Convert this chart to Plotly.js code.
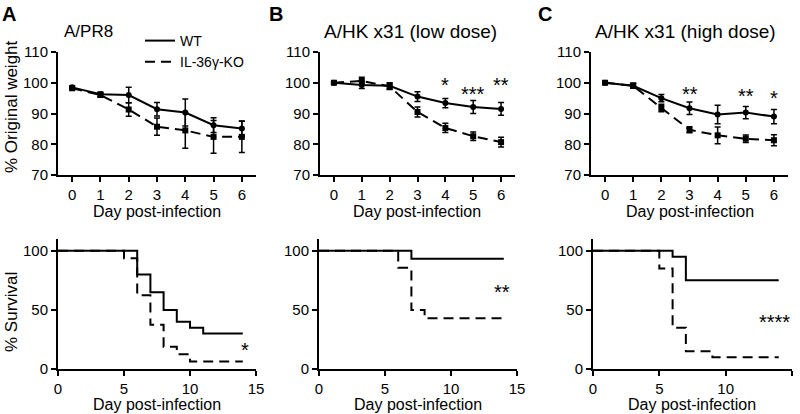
<!DOCTYPE html>
<html>
<head>
<meta charset="utf-8">
<script src="https://cdn.plot.ly/plotly-3.0.1.min.js"></script>
<style>
  html, body { margin: 0; padding: 0; background: #fff; }
  #chart { width: 800px; height: 414px; }
</style>
</head>
<body>
<div id="chart"></div>
<script>
// Weight loss, days 0-6 post infection (mean and SEM)
const days = [0, 1, 2, 3, 4, 5, 6];

const pr8WtMean = [98.5, 96.3, 96.0, 91.4, 90.3, 86.2, 85.1];
const pr8WtErr  = [0.5, 0.7, 2.5, 2.2, 4.4, 2.4, 2.5];
const pr8KoMean = [98.2, 96.0, 91.3, 85.7, 84.5, 82.4, 82.4];
const pr8KoErr  = [0.5, 0.7, 2.2, 2.8, 5.8, 5.3, 5.1];

const lowWtMean = [100, 99.3, 99.0, 95.5, 93.4, 92.1, 91.5];
const lowWtErr  = [0.3, 1.2, 1.0, 1.6, 1.5, 2.1, 2.1];
const lowKoMean = [100, 100.6, 98.8, 90.5, 85.3, 82.6, 80.7];
const lowKoErr  = [0.3, 1.2, 1.0, 1.6, 1.5, 1.4, 1.6];

const highWtMean = [100, 99.0, 95.0, 91.7, 89.7, 90.3, 89.0];
const highWtErr  = [0.3, 0.8, 1.2, 2.0, 3.0, 2.0, 2.3];
const highKoMean = [100, 99.0, 91.8, 84.7, 82.9, 81.8, 81.3];
const highKoErr  = [0.3, 0.8, 1.2, 1.0, 2.7, 1.2, 1.8];

// Kaplan-Meier survival (event day, percent surviving)
const pr8WtDay  = [0, 6, 7, 8, 9, 10, 11, 14];
const pr8WtSurv = [100, 80, 65, 50, 40, 35, 30, 30];
const pr8KoDay  = [0, 5, 6, 7, 8, 9, 10, 14];
const pr8KoSurv = [100, 93.75, 62.5, 37.5, 18.75, 12.5, 6.25, 6.25];

const lowWtDay  = [0, 7, 14];
const lowWtSurv = [100, 93.3, 93.3];
const lowKoDay  = [0, 6, 7, 8, 14];
const lowKoSurv = [100, 85.7, 50, 42.9, 42.9];

const highWtDay  = [0, 6, 7, 14];
const highWtSurv = [100, 95, 75, 75];
const highKoDay  = [0, 5, 6, 7, 9, 14];
const highKoSurv = [100, 85, 35, 15, 10, 10];

// significance marks
const lowSigDays = [4, 5, 6];
const lowSigText = ['*', '***', '**'];
const highSigDays = [3, 5, 6];
const highSigText = ['**', '**', '*'];
const survSigText = ['*', '**', '****'];

const panelTitles = ['A/PR8', 'A/HK x31 (low dose)', 'A/HK x31 (high dose)'];
const panelLetters = ['A', 'B', 'C'];

const FONT = 'Liberation Sans, Arial, sans-serif';
const DASH = '10px,6px';

function weightTraces(wtMean, wtErr, koMean, koErr, n) {
    const errStyle = { type: 'data', visible: true, color: '#000', thickness: 1.5, width: 3 };
    return [
        {
            x: days, y: koMean, xaxis: 'x' + n, yaxis: 'y' + n,
            type: 'scatter', mode: 'lines+markers', showlegend: false,
            line: { color: '#000', width: 2, dash: DASH },
            marker: { symbol: 'square', size: 6, color: '#000' },
            error_y: Object.assign({ array: koErr }, errStyle)
        },
        {
            x: days, y: wtMean, xaxis: 'x' + n, yaxis: 'y' + n,
            type: 'scatter', mode: 'lines+markers', showlegend: false,
            line: { color: '#000', width: 2 },
            marker: { symbol: 'circle', size: 6, color: '#000' },
            error_y: Object.assign({ array: wtErr }, errStyle)
        }
    ];
}

function survivalTraces(wtDay, wtSurv, koDay, koSurv, n) {
    return [
        {
            x: wtDay, y: wtSurv, xaxis: 'x' + n, yaxis: 'y' + n,
            type: 'scatter', mode: 'lines', showlegend: false,
            line: { color: '#000', width: 2, shape: 'hv' }
        },
        {
            x: koDay, y: koSurv, xaxis: 'x' + n, yaxis: 'y' + n,
            type: 'scatter', mode: 'lines', showlegend: false,
            line: { color: '#000', width: 2, shape: 'hv', dash: DASH }
        }
    ];
}

const traces = [
    ...weightTraces(pr8WtMean, pr8WtErr, pr8KoMean, pr8KoErr, ''),
    ...weightTraces(lowWtMean, lowWtErr, lowKoMean, lowKoErr, '2'),
    ...weightTraces(highWtMean, highWtErr, highKoMean, highKoErr, '3'),
    ...survivalTraces(pr8WtDay, pr8WtSurv, pr8KoDay, pr8KoSurv, '4'),
    ...survivalTraces(lowWtDay, lowWtSurv, lowKoDay, lowKoSurv, '5'),
    ...survivalTraces(highWtDay, highWtSurv, highKoDay, highKoSurv, '6'),
    // legend entries (lines only)
    { x: [null], y: [null], type: 'scatter', mode: 'lines', name: 'WT',
      line: { color: '#000', width: 2 } },
    { x: [null], y: [null], type: 'scatter', mode: 'lines', name: 'IL-36γ-KO',
      line: { color: '#000', width: 2, dash: DASH } }
];

function baseAxis(extra) {
    return Object.assign({
        showline: true, linecolor: '#000', linewidth: 2,
        showgrid: false, zeroline: false,
        ticks: 'outside', ticklen: 5, tickwidth: 2, tickcolor: '#000',
        tickfont: { family: FONT, size: 15, color: '#000' },
        fixedrange: true
    }, extra);
}

const W = 800, H = 414;
const topY = [1 - 175 / H, 1 - 52 / H];
const botY = [1 - 369 / H, 1 - 239 / H];

const layout = {
    width: W, height: H,
    margin: { l: 0, r: 0, t: 0, b: 0 },
    paper_bgcolor: '#fff', plot_bgcolor: '#fff',
    font: { family: FONT, color: '#000' },
    showlegend: true,
    legend: {
        x: 140 / W, y: 1 - 25 / H, xanchor: 'left', yanchor: 'top',
        bgcolor: 'rgba(0,0,0,0)', font: { family: FONT, size: 14, color: '#000' },
        tracegroupgap: 0
    },
    xaxis:  baseAxis({ domain: [58 / W, 256 / W], range: [-0.5, 6.5], anchor: 'y', tickvals: days }),
    xaxis2: baseAxis({ domain: [320 / W, 515 / W], range: [-0.5, 6.5], anchor: 'y2', tickvals: days }),
    xaxis3: baseAxis({ domain: [591 / W, 788 / W], range: [-0.5, 6.5], anchor: 'y3', tickvals: days }),
    xaxis4: baseAxis({ domain: [58 / W, 256 / W], range: [0, 15], anchor: 'y4', tickvals: [0, 5, 10, 15] }),
    xaxis5: baseAxis({ domain: [319 / W, 517 / W], range: [0, 15], anchor: 'y5', tickvals: [0, 5, 10, 15] }),
    xaxis6: baseAxis({ domain: [593 / W, 792 / W], range: [0, 15], anchor: 'y6', tickvals: [0, 5, 10, 15] }),
    yaxis:  baseAxis({ domain: topY, range: [70, 110], anchor: 'x', tickvals: [70, 80, 90, 100, 110] }),
    yaxis2: baseAxis({ domain: topY, range: [70, 110], anchor: 'x2', tickvals: [70, 80, 90, 100, 110] }),
    yaxis3: baseAxis({ domain: topY, range: [70, 110], anchor: 'x3', tickvals: [70, 80, 90, 100, 110] }),
    yaxis4: baseAxis({ domain: botY, range: [0, 110], anchor: 'x4', tickvals: [0, 50, 100] }),
    yaxis5: baseAxis({ domain: botY, range: [0, 110], anchor: 'x5', tickvals: [0, 50, 100] }),
    yaxis6: baseAxis({ domain: botY, range: [0, 110], anchor: 'x6', tickvals: [0, 50, 100] }),
    annotations: []
};

function paperText(text, px, py, size, extra) {
    return Object.assign({
        text: text, xref: 'paper', yref: 'paper', x: px / W, y: 1 - py / H,
        xanchor: 'center', yanchor: 'middle', showarrow: false, borderpad: 0,
        font: { family: FONT, size: size, color: '#000' }
    }, extra || {});
}

// panel letters and titles
const letterX = [9, 276, 545];
const titleX = [63, 323, 594];
const titleSize = [17, 19, 19];
panelLetters.forEach((t, i) => {
    layout.annotations.push(paperText('<b>' + t + '</b>', letterX[i], 14, 20));
    layout.annotations.push(paperText(panelTitles[i], titleX[i], 31, titleSize[i], { xanchor: 'left' }));
});

// axis titles
const topCenters = [157, 417, 690];
const botCenters = [157, 418, 692];
topCenters.forEach(cx => layout.annotations.push(paperText('Day post-infection', cx, 211, 16)));
botCenters.forEach(cx => layout.annotations.push(paperText('Day post-infection', cx, 404, 16)));
layout.annotations.push(paperText('% Original weight', 11, 107, 17, { textangle: -90 }));
layout.annotations.push(paperText('% Survival', 11, 312, 17, { textangle: -90 }));

// significance stars above the weight curves
const starFont = { family: FONT, size: 20, color: '#000' };
const lowStarY = [99.4, 96.4, 99.4];
lowSigDays.forEach((d, i) => {
    layout.annotations.push({ text: lowSigText[i], xref: 'x2', yref: 'y2', x: d, y: lowStarY[i],
        showarrow: false, font: starFont, yanchor: 'middle' });
});
const highStarY = [96.4, 95.7, 94.9];
highSigDays.forEach((d, i) => {
    layout.annotations.push({ text: highSigText[i], xref: 'x3', yref: 'y3', x: d, y: highStarY[i],
        showarrow: false, font: starFont, yanchor: 'middle' });
});
// survival stars
const survStarPos = [[14.2, 16.5], [13.9, 65.5], [13.7, 39.5]];
survSigText.forEach((t, i) => {
    layout.annotations.push({ text: t, xref: 'x' + (i + 4), yref: 'y' + (i + 4),
        x: survStarPos[i][0], y: survStarPos[i][1], showarrow: false, font: starFont, yanchor: 'middle' });
});

Plotly.newPlot('chart', traces, layout, { displayModeBar: false, staticPlot: true });
</script>
</body>
</html>
